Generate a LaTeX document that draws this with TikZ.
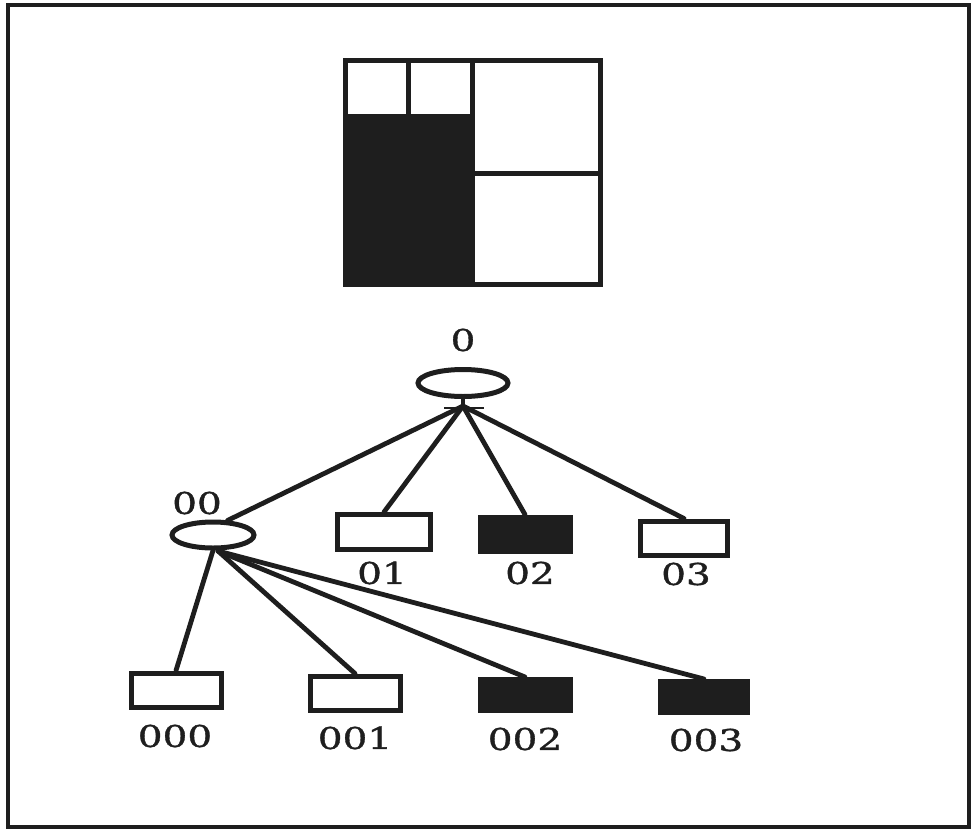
\documentclass[tikz,border=0pt]{standalone}
\usepackage{fontspec}
\usetikzlibrary{shapes.geometric}
\newfontfamily\lblfont[FakeStretch=1.3, FakeBold=1.2]{DejaVu Serif}
\definecolor{ink}{HTML}{1E1E1E}
\tikzset{
  thick line/.style={line width=5pt, draw=ink},
  treenode/.style={ellipse, thick line, inner sep=0pt},
  leafbox/.style={rectangle, thick line, inner sep=0pt, minimum width=90pt, minimum height=34pt},
  fullbox/.style={leafbox, fill=ink},
  emptybox/.style={leafbox, fill=white},
  edge/.style={line width=4.8pt, draw=ink, line cap=round},
  lbl/.style={inner sep=0pt, font=\lblfont\fontsize{30}{32}\selectfont, text=ink}
}
\begin{document}
\begin{tikzpicture}[x=1pt, y=-1pt]
  \useasboundingbox (0,0) rectangle (974,830);
  % outer frame
  \draw[line width=3.5pt, draw=ink] (8,5) rectangle (969,827);

  % partitioned square: shaded lower-left block, then the dividing lines
  \fill[ink] (345.5,116) rectangle (472,284.5);
  \draw[thick line] (345.5,60.5) rectangle (600.5,284.5);
  \draw[thick line] (472,60.5) -- (472,284.5);
  \draw[thick line] (345.5,173.5) -- (600.5,173.5);
  \draw[thick line] (408,60.5) -- (408,116);
  \draw[thick line] (345.5,116) -- (472,116);

  % tree nodes
  \node[treenode, minimum width=90pt, minimum height=27pt] (n0) at (463,383) {};
  \node[treenode, minimum width=82pt, minimum height=26pt] (n00) at (213,535) {};
  \coordinate (j0) at (463,406);
  \coordinate (j00) at (218,551);

  \node[emptybox, minimum width=93pt, minimum height=35pt] (n01) at (384,532) {};
  \node[fullbox] (n02) at (525,534) {};
  \node[emptybox, minimum width=87pt] (n03) at (684,538) {};

  \node[emptybox] (n000) at (176,690) {};
  \node[emptybox] (n001) at (355,693) {};
  \node[fullbox, minimum height=31pt] (n002) at (525,695) {};
  \node[fullbox, minimum width=87pt, minimum height=31pt] (n003) at (704,697) {};

  % connectors
  \draw[edge] (n0.south) -- (j0);
  \draw[line width=2pt, draw=ink] (444,408) -- (484,408);
  \draw[edge] (j0) -- (n00.45);
  \draw[edge] (j0) -- (n01.north);
  \draw[edge] (j0) -- (n02.north);
  \draw[edge] (j0) -- (n03.north);
  \draw[edge] (n00.south) -- (n000.north);
  \draw[edge] (j00) -- (n001.north);
  \draw[edge] (j00) -- (n002.north);
  \draw[edge] (j00) -- (n003.north);

  % labels
  \node[lbl] (t0) at (463,340) {0};
  \node[lbl] (t00) at (197,503) {00};
  \node[lbl] (t01) at (382,573) {01};
  \node[lbl] (t02) at (530,573) {02};
  \node[lbl] (t03) at (686,574) {03};
  \node[lbl] (t000) at (175,736) {000};
  \node[lbl] (t001) at (355,738) {001};
  \node[lbl] (t002) at (525,739) {002};
  \node[lbl] (t003) at (706,740) {003};
\end{tikzpicture}
\end{document}
